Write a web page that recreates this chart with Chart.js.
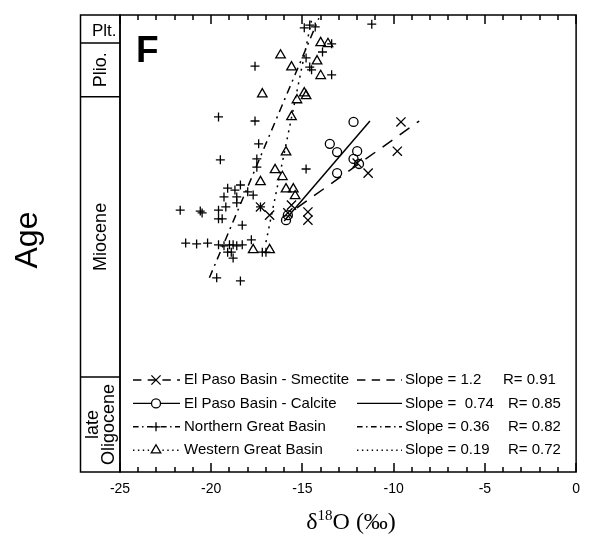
<!DOCTYPE html>
<html>
<head>
<meta charset="utf-8">
<script src="https://cdn.jsdelivr.net/npm/chart.js@4"></script>
<style>
  html, body { margin: 0; padding: 0; background: #fff; }
</style>
</head>
<body>
<canvas id="isoChart" width="589" height="540"></canvas>
<script>
// d18O against relative position in the age column (0 = top of column, 100 = base)

const smectite_d18o = [-9.6, -9.8, -11.4, -12.0, -15.6, -16.8, -14.7, -14.7, -17.3, -15.8];
const smectite_age  = [23.4, 29.8, 34.6, 32.4, 41.6, 43.8, 43.1, 44.9, 42.0, 43.3];

const calcite_d18o = [-12.2, -13.5, -13.1, -12.0, -12.2, -11.9, -13.1, -15.9, -15.8];
const calcite_age  = [23.4, 28.2, 30.0, 29.8, 31.5, 32.6, 34.6, 44.9, 43.8];

const ngb_d18o = [-11.2, -17.6, -19.6, -17.6, -17.4, -19.5, -17.5, -17.5, -14.8, -14.9,
  -14.6, -14.3, -13.4, -13.9, -14.8, -14.6, -14.5, -13.4, -18.4, -19.1,
  -18.7, -19.3, -18.6, -18.0, -17.7, -19.2, -18.6, -19.6, -21.7, -20.6,
  -20.5, -19.6, -19.4, -18.3, -21.4, -20.8, -20.2, -19.6, -19.3, -19.0,
  -18.8, -18.6, -18.3, -19.1, -18.9, -18.8, -17.8, -17.2, -17.0, -19.7,
  -18.4, -17.3];
const ngb_age = [2.0, 11.2, 22.3, 23.2, 28.2, 31.7, 31.5, 33.3, 33.7, 2.8,
  2.2, 2.6, 6.3, 8.1, 9.4, 11.4, 12.0, 13.1, 37.2, 37.9,
  38.3, 39.8, 39.8, 38.7, 39.4, 42.0, 41.1, 42.7, 42.7, 42.9,
  43.3, 44.6, 44.6, 46.0, 49.9, 50.1, 49.9, 50.3, 50.5, 50.3,
  50.3, 50.5, 50.3, 51.9, 51.9, 53.2, 49.2, 51.9, 51.9, 57.5,
  58.2, 42.0];

const wgb_d18o = [-16.2, -15.6, -14.2, -14.0, -14.0, -13.6, -17.2, -15.3, -14.9, -14.8,
  -15.6, -15.9, -16.5, -16.1, -17.3, -15.9, -15.5, -15.4, -17.7, -16.8];
const wgb_age = [8.8, 11.4, 10.1, 13.3, 6.1, 6.3, 17.3, 18.6, 17.1, 17.7,
  22.3, 30.0, 33.9, 35.4, 36.5, 38.1, 38.1, 39.6, 51.4, 51.4];

// regression line end points
const smectite_fit_d18o = [-15.3, -8.6];
const smectite_fit_age  = [42.2, 23.2];
const calcite_fit_d18o  = [-16.0, -11.3];
const calcite_fit_age   = [45.1, 23.2];
const ngb_fit_d18o      = [-20.1, -14.1];
const ngb_fit_age       = [57.5, 0.7];
const wgb_fit_d18o      = [-17.0, -14.5];
const wgb_fit_age       = [49.7, 1.1];

const series_labels = ['El Paso Basin - Smectite', 'El Paso Basin - Calcite', 'Northern Great Basin', 'Western Great Basin'];
const fit_slopes = ['1.2', ' 0.74', '0.36', '0.19'];
const fit_r = ['0.91', '0.85', '0.82', '0.72'];

const period_labels = ['Plt.', 'Plio.', 'Miocene', 'late|Oligocene'];
const period_bounds = [0, 6.1, 17.9, 79.2, 100];

const x_min = -25;
const x_max = 0;
const x_tick_step = 5;

/////////////////////////////////////////////////////////////////////////////////////////

const black = '#000';
const sans = '"Liberation Sans", Arial, sans-serif';
const serif = '"Liberation Serif", "Times New Roman", serif';

const styles = [
  { point: 'crossRot', radius: 6.5, dash: [12, 9] },
  { point: 'circle', radius: 4.5, dash: [] },
  { point: 'cross', radius: 4.5, dash: [8, 5, 2, 5] },
  { point: 'triangle', radius: 5.5, dash: [2, 5] }
];

const toPoints = (xs, ys) => xs.map((x, i) => ({ x: x, y: ys[i] }));

function pointSet(label, xs, ys, style) {
  return {
    label: label,
    data: toPoints(xs, ys),
    showLine: false,
    pointStyle: style.point,
    pointRadius: style.radius,
    pointHoverRadius: style.radius,
    pointBorderColor: black,
    pointBackgroundColor: 'rgba(0,0,0,0)',
    pointBorderWidth: 1.3
  };
}

function fitSet(label, xs, ys, style) {
  return {
    label: label,
    data: toPoints(xs, ys),
    showLine: true,
    borderColor: black,
    borderWidth: 1.5,
    borderDash: style.dash,
    pointRadius: 0,
    fill: false
  };
}

function drawMarker(ctx, style, x, y) {
  ctx.save();
  ctx.setLineDash([]);
  ctx.lineWidth = 1.3;
  ctx.strokeStyle = black;
  ctx.fillStyle = '#fff';
  Chart.helpers.drawPoint(ctx, { pointStyle: style.point, radius: style.radius, borderWidth: 1.3, rotation: 0 }, x, y);
  ctx.restore();
}

const framePlugin = {
  id: 'frame',
  afterDraw(chart) {
    const ctx = chart.ctx;
    const area = chart.chartArea;
    const xs = chart.scales.x;
    const ys = chart.scales.y;

    ctx.save();
    ctx.strokeStyle = black;
    ctx.fillStyle = black;
    ctx.lineWidth = 1.5;
    ctx.setLineDash([]);

    // plot box
    ctx.strokeRect(area.left, area.top, area.right - area.left, area.bottom - area.top);

    // inward ticks top and bottom, every 1 per mil
    for (let i = 0; i <= x_max - x_min; i++) {
      const px = Math.round(xs.getPixelForValue(x_min + i));
      const len = (i % x_tick_step === 0) ? 9 : 5;
      ctx.fillRect(px - 0.75, area.top, 1.5, len);
      ctx.fillRect(px - 0.75, area.bottom - len, 1.5, len);
    }

    // age column
    ctx.lineWidth = 1.5;
    const colLeft = area.left - 39.5;
    ctx.strokeRect(colLeft, area.top, area.left - colLeft, area.bottom - area.top);
    for (let i = 1; i < period_bounds.length - 1; i++) {
      const py = ys.getPixelForValue(period_bounds[i]);
      ctx.beginPath();
      ctx.moveTo(colLeft, py);
      ctx.lineTo(area.left, py);
      ctx.stroke();
    }

    ctx.textAlign = 'center';
    ctx.textBaseline = 'middle';
    period_labels.forEach((lab, i) => {
      const cy = (ys.getPixelForValue(period_bounds[i]) + ys.getPixelForValue(period_bounds[i + 1])) / 2;
      const cx = (colLeft + area.left) / 2;
      if (i === 0) {
        ctx.font = `17px ${sans}`;
        ctx.fillText(lab, cx + 4, cy + 2);
        return;
      }
      const lines = lab.split('|');
      ctx.save();
      ctx.translate(cx, cy);
      ctx.rotate(-Math.PI / 2);
      ctx.font = `18px ${sans}`;
      lines.forEach((ln, j) => {
        const off = (j - (lines.length - 1) / 2) * 16;
        ctx.fillText(ln, 0, off + 1);
      });
      ctx.restore();
    });

    // Age title
    ctx.save();
    ctx.translate(28, 240);
    ctx.rotate(-Math.PI / 2);
    ctx.font = `32px ${sans}`;
    ctx.fillText('Age', 0, 0);
    ctx.restore();

    // panel letter
    ctx.textAlign = 'left';
    ctx.textBaseline = 'alphabetic';
    ctx.font = `bold 37px ${sans}`;
    ctx.fillText('F', area.left + 16, area.top + 47);

    // x title with superscript
    const part1 = 'δ', part2 = '18', part3 = 'O (‰)';
    ctx.font = `24px ${serif}`;
    const w1 = ctx.measureText(part1).width;
    const w3 = ctx.measureText(part3).width;
    ctx.font = `15px ${serif}`;
    const w2 = ctx.measureText(part2).width;
    let tx = (area.left + area.right) / 2 + 3 - (w1 + w2 + w3) / 2;
    const base = 529;
    ctx.font = `24px ${serif}`;
    ctx.fillText(part1, tx, base);
    tx += w1;
    ctx.font = `15px ${serif}`;
    ctx.fillText(part2, tx, base - 9);
    tx += w2;
    ctx.font = `24px ${serif}`;
    ctx.fillText(part3, tx, base);

    // legend
    ctx.font = `15px ${sans}`;
    ctx.textBaseline = 'middle';
    const rowTop = 380;
    const rowGap = 23.4;
    series_labels.forEach((lab, i) => {
      const y = rowTop + i * rowGap;
      const st = styles[i];
      ctx.save();
      ctx.lineWidth = 1.4;
      ctx.setLineDash(st.dash.length ? st.dash.map(d => d * 0.7) : []);
      ctx.beginPath();
      ctx.moveTo(133, y);
      ctx.lineTo(180, y);
      ctx.stroke();
      ctx.restore();
      drawMarker(ctx, st, 156, y);
      ctx.fillStyle = black;
      ctx.fillText(lab, 184, y);

      ctx.save();
      ctx.lineWidth = 1.4;
      ctx.setLineDash(st.dash.length ? st.dash.map(d => d * 0.7) : []);
      ctx.beginPath();
      ctx.moveTo(357, y);
      ctx.lineTo(402, y);
      ctx.stroke();
      ctx.restore();
      ctx.fillText('Slope = ' + fit_slopes[i], 405, y);
      ctx.fillText('R= ' + fit_r[i], i === 0 ? 503 : 508, y);
    });

    ctx.restore();
  }
};

const ctx = document.getElementById('isoChart').getContext('2d');

const chart = new Chart(ctx, {
  type: 'scatter',
  data: {
    datasets: [
      fitSet('Smectite fit', smectite_fit_d18o, smectite_fit_age, styles[0]),
      fitSet('Calcite fit', calcite_fit_d18o, calcite_fit_age, styles[1]),
      fitSet('Northern fit', ngb_fit_d18o, ngb_fit_age, styles[2]),
      fitSet('Western fit', wgb_fit_d18o, wgb_fit_age, styles[3]),
      pointSet(series_labels[0], smectite_d18o, smectite_age, styles[0]),
      pointSet(series_labels[1], calcite_d18o, calcite_age, styles[1]),
      pointSet(series_labels[2], ngb_d18o, ngb_age, styles[2]),
      pointSet(series_labels[3], wgb_d18o, wgb_age, styles[3])
    ]
  },
  options: {
    responsive: false,
    animation: false,
    layout: {
      padding: { left: 120, top: 15, right: 12, bottom: 0 }
    },
    plugins: {
      legend: { display: false },
      tooltip: { enabled: false },
      title: { display: false }
    },
    scales: {
      x: {
        type: 'linear',
        min: x_min,
        max: x_max,
        ticks: {
          stepSize: x_tick_step,
          color: black,
          padding: 9,
          font: { family: sans, size: 14 }
        },
        grid: { display: false, drawTicks: false },
        border: { display: false },
        afterFit: (scale) => { scale.height = 68; }
      },
      y: {
        type: 'linear',
        min: 0,
        max: 100,
        reverse: true,
        display: false
      }
    }
  },
  plugins: [framePlugin]
});
</script>
</body>
</html>
